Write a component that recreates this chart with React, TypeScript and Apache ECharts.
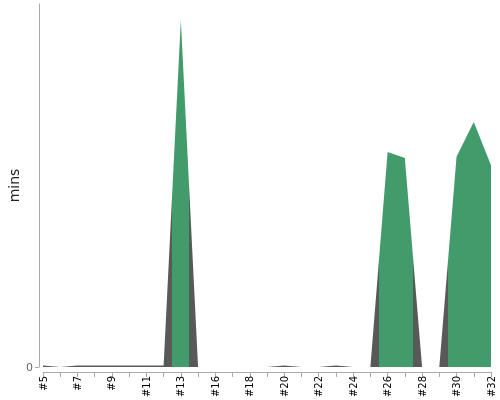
import React, { useEffect, useRef } from "react";
import * as echarts from "echarts";

const categories = [
  "#5", "#6", "#7", "#8", "#9", "#10", "#11", "#12", "#13", "#14",
  "#16", "#17", "#18", "#19", "#20", "#21", "#22", "#23", "#24", "#25",
  "#26", "#27", "#28", "#29", "#30", "#31", "#32",
];

const minutes = [
  0.4, 0, 0.4, 0.4, 0.4, 0.4, 0.4, 0.4, 95.6, 0,
  0, 0, 0, 0, 0.4, 0, 0, 0.4, 0, 0,
  59.2, 57.6, 0, 0, 57.9, 67.5, 55.6,
];

// category-index ranges highlighted in green
const greenRanges = [
  [7.5, 8.5],
  [19.5, 21.5],
  [23.5, 26.5],
];

const GREY = "#595959";
const GREEN = "#429b6b";

export default function App() {
  const ref = useRef<HTMLDivElement>(null);
  useEffect(() => {
    if (!ref.current) return;
    const chart = echarts.init(ref.current, null, { renderer: "svg" });
    const pieces: any[] = [];
    let prev = -Infinity;
    greenRanges.forEach(([a, b]) => {
      pieces.push(prev === -Infinity ? { lte: a, color: GREY } : { gt: prev, lte: a, color: GREY });
      pieces.push({ gt: a, lte: b, color: GREEN });
      prev = b;
    });
    pieces.push({ gt: prev, color: GREY });
    const data = minutes.map((v, i) => [i, v]);
    chart.setOption({
      animation: false,
      textStyle: { fontFamily: "DejaVu Sans" },
      grid: { left: 43, right: 9, top: 4, bottom: 33, outerBoundsMode: "none", containLabel: false },
      visualMap: {
        show: false,
        type: "piecewise",
        dimension: 0,
        seriesIndex: 0,
        pieces,
      },
      xAxis: {
        type: "value",
        min: 0,
        max: categories.length - 1,
        interval: 1,
        offset: 5,
        axisLine: { show: true, onZero: false, lineStyle: { color: "#aaaaaa" } },
        axisTick: { show: true, length: 5, lineStyle: { color: "#aaaaaa" } },
        axisLabel: {
          rotate: 90,
          margin: 4,
          fontSize: 10,
          color: "#000000",
          fontFamily: "DejaVu Sans",
          hideOverlap: false,
          formatter: (v: number) => (v % 2 === 0 ? categories[v] ?? "" : ""),
        },
        splitLine: { show: false },
      },
      yAxis: {
        type: "value",
        min: 0,
        max: 100,
        offset: 4,
        name: "mins",
        nameLocation: "middle",
        nameGap: 18,
        nameMoveOverlap: false,
        nameTextStyle: { fontSize: 14, color: "#222222", fontFamily: "DejaVu Sans" },
        axisLine: { show: true, onZero: false, lineStyle: { color: "#aaaaaa" } },
        axisTick: { show: true, length: 4, customValues: [0], lineStyle: { color: "#aaaaaa" } },
        axisLabel: { customValues: [0], fontSize: 11, color: "#666666", margin: 6, fontFamily: "DejaVu Sans" },
        splitLine: { show: false },
      },
      series: [
        {
          type: "line",
          data,
          showSymbol: false,
          symbol: "none",
          lineStyle: { width: 0 },
          areaStyle: { opacity: 1 },
        },
      ],
    });
    return () => chart.dispose();
  }, []);
  return (
    <div
      ref={ref}
      style={{ position: "fixed", left: 0, top: 0, width: 500, height: 400 }}
    />
  );
}
